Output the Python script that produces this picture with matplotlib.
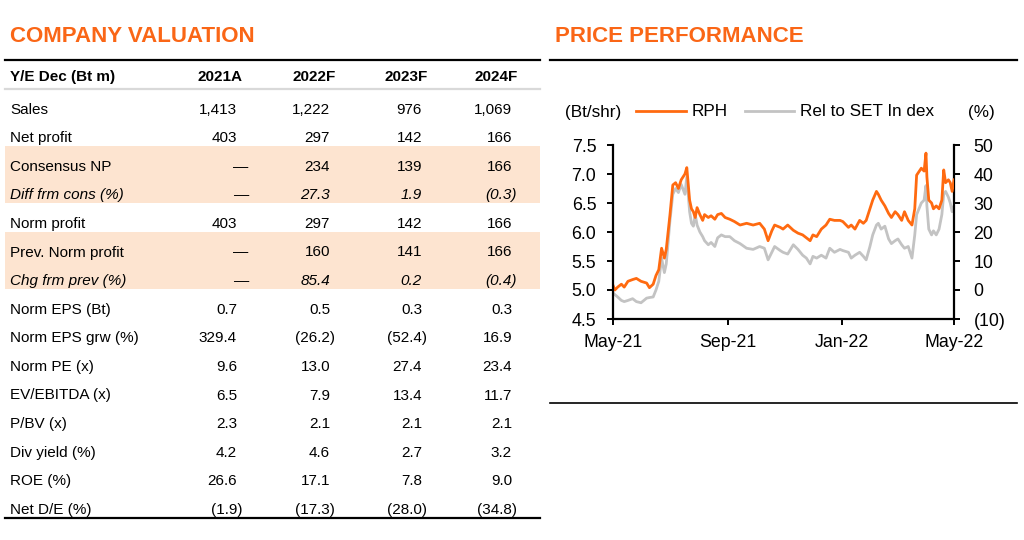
import matplotlib
matplotlib.use("Agg")
import matplotlib.pyplot as plt
import matplotlib.dates as mdates
from matplotlib.ticker import FuncFormatter, FixedLocator
from matplotlib.patches import Rectangle
import pandas as pd

plt.rcParams['font.family'] = ['Liberation Sans', 'DejaVu Sans']

# ---------------- table data ----------------
columns = ["2021A", "2022F", "2023F", "2024F"]
row_labels = ["Sales", "Net profit", "Consensus NP", "Diff frm cons (%)", "Norm profit",
              "Prev. Norm profit", "Chg frm prev (%)", "Norm EPS (Bt)", "Norm EPS grw (%)",
              "Norm PE (x)", "EV/EBITDA (x)", "P/BV (x)", "Div yield (%)", "ROE (%)", "Net D/E (%)"]
row_values = [
    ["1,413", "1,222", "976", "1,069"],
    ["403", "297", "142", "166"],
    ["\u2014", "234", "139", "166"],
    ["\u2014", "27.3", "1.9", "(0.3)"],
    ["403", "297", "142", "166"],
    ["\u2014", "160", "141", "166"],
    ["\u2014", "85.4", "0.2", "(0.4)"],
    ["0.7", "0.5", "0.3", "0.3"],
    ["329.4", "(26.2)", "(52.4)", "16.9"],
    ["9.6", "13.0", "27.4", "23.4"],
    ["6.5", "7.9", "13.4", "11.7"],
    ["2.3", "2.1", "2.1", "2.1"],
    ["4.2", "4.6", "2.7", "3.2"],
    ["26.6", "17.1", "7.8", "9.0"],
    ["(1.9)", "(17.3)", "(28.0)", "(34.8)"],
]
shaded_rows = [2, 3, 5, 6]
italic_rows = [3, 6]

# ---------------- price data ----------------
dates = ["2021-05-01", "2021-05-03", "2021-05-06", "2021-05-10", "2021-05-13", "2021-05-17",
         "2021-05-22", "2021-05-26", "2021-05-31", "2021-06-06", "2021-06-09", "2021-06-13",
         "2021-06-16", "2021-06-19", "2021-06-22", "2021-06-25", "2021-06-27", "2021-07-01",
         "2021-07-04", "2021-07-07", "2021-07-10", "2021-07-13", "2021-07-17", "2021-07-19",
         "2021-07-22", "2021-07-24", "2021-07-26", "2021-07-28", "2021-07-30", "2021-08-02",
         "2021-08-05", "2021-08-07", "2021-08-11", "2021-08-14", "2021-08-18", "2021-08-21",
         "2021-08-25", "2021-08-29", "2021-09-03", "2021-09-08", "2021-09-14", "2021-09-21",
         "2021-09-28", "2021-10-05", "2021-10-10", "2021-10-14", "2021-10-18", "2021-10-21",
         "2021-10-27", "2021-10-30", "2021-11-04", "2021-11-10", "2021-11-15", "2021-11-20",
         "2021-11-24", "2021-11-28", "2021-12-01", "2021-12-05", "2021-12-10", "2021-12-15",
         "2021-12-19", "2021-12-24", "2021-12-30", "2022-01-02", "2022-01-08", "2022-01-11",
         "2022-01-15", "2022-01-20", "2022-01-24", "2022-01-27", "2022-01-31", "2022-02-03",
         "2022-02-07", "2022-02-09", "2022-02-12", "2022-02-16", "2022-02-20", "2022-02-23",
         "2022-02-27", "2022-03-02", "2022-03-06", "2022-03-09", "2022-03-13", "2022-03-17",
         "2022-03-20", "2022-03-22", "2022-03-27", "2022-03-30", "2022-04-01", "2022-04-02",
         "2022-04-04", "2022-04-07", "2022-04-09", "2022-04-12", "2022-04-15", "2022-04-18",
         "2022-04-20", "2022-04-22", "2022-04-25", "2022-04-27", "2022-04-29", "2022-05-01"]
rph_price = [5.08, 5.00, 5.05, 5.10, 5.05, 5.15, 5.18, 5.20, 5.15, 5.12,
             5.04, 5.10, 5.25, 5.35, 5.72, 5.55, 5.70, 6.30, 6.81, 6.85,
             6.75, 6.90, 7.00, 7.11, 6.55, 6.40, 6.35, 6.25, 6.42, 6.30,
             6.20, 6.30, 6.25, 6.28, 6.22, 6.30, 6.32, 6.25, 6.22, 6.18,
             6.12, 6.15, 6.12, 6.15, 6.05, 5.85, 6.02, 6.12, 6.08, 6.05,
             6.12, 6.03, 5.98, 5.95, 5.90, 5.85, 5.95, 5.92, 6.05, 6.12,
             6.22, 6.20, 6.20, 6.18, 6.08, 6.12, 6.05, 6.20, 6.15, 6.20,
             6.40, 6.55, 6.70, 6.65, 6.55, 6.45, 6.32, 6.25, 6.35, 6.30,
             6.20, 6.35, 6.20, 6.12, 6.40, 6.98, 7.10, 7.05, 7.36, 6.95,
             6.55, 6.50, 6.40, 6.45, 6.40, 6.55, 7.07, 6.85, 6.90, 6.85,
             6.70, 6.90]
rel_set_pct = [-1, -1.6, -2.4, -3.6, -4, -3.6, -3, -4, -4.4, -2.8,
               -2.6, -2.4, 0, 3, 11, 6, 9, 24, 33, 35,
               33.6, 36.4, 33, 39, 27, 23, 22, 26, 22.4, 20,
               18.4, 17, 15.6, 16.4, 15, 18, 19, 18.4, 18.4, 17,
               16, 14.4, 14, 15, 14.4, 10.4, 13, 15, 13.6, 13,
               12.4, 15.6, 14, 12, 11, 9, 11.6, 11, 12, 11,
               14.4, 13, 14, 13.6, 13, 11, 12, 13, 11.6, 10.4,
               15, 19, 22.4, 23, 21, 22, 17.6, 16, 17, 17.6,
               15.6, 14.4, 15, 11, 19, 26, 30, 31, 36, 29,
               21, 19, 20.4, 19, 21, 26, 33, 34, 32, 30,
               27, 29]
x_ticks = ["2021-05-01", "2021-09-01", "2022-01-01", "2022-05-01"]
left_ticks = [4.5, 5.0, 5.5, 6.0, 6.5, 7.0, 7.5]
right_ticks = [-10, 0, 10, 20, 30, 40, 50]

ORANGE_TITLE = "#FA6616"
ORANGE_LINE = "#FF6A10"
GRAY_LINE = "#C3C3C3"
BAND = "#FDE4D0"

W, H = 1024, 540
fig = plt.figure(figsize=(W / 100, H / 100), dpi=100)

# overlay axes in pixel coordinates
ov = fig.add_axes([0, 0, 1, 1])
ov.set_xlim(0, W)
ov.set_ylim(H, 0)
ov.axis("off")

# ---- left: table ----
ov.text(10, 37, "COMPANY VALUATION", color=ORANGE_TITLE, fontsize=16,
        fontweight="bold", va="center", ha="left")
ov.plot([5, 540], [60, 60], color="black", lw=1.6)
ov.plot([5, 540], [89, 89], color="#D9D9D9", lw=1.6)

col_right = [242, 335, 427, 517]
fs = 11
y_head = 77
ov.text(10, y_head, "Y/E Dec (Bt m)", fontsize=fs, fontweight="bold", va="center")
for c, name in enumerate(columns):
    ov.text(col_right[c] + 1, y_head, name, fontsize=fs, fontweight="bold",
            va="center", ha="right")

y0, pitch = 109.5, 28.6
for i, lab in enumerate(row_labels):
    y = y0 + i * pitch
    if i in shaded_rows:
        ov.add_patch(Rectangle((5, y - 20.5), 535, pitch, facecolor=BAND,
                               edgecolor="none", zorder=0))
    style = "italic" if i in italic_rows else "normal"
    ov.text(10, y, lab, fontsize=fs, style=style, va="center", ha="left")
    for c, v in enumerate(row_values[i]):
        if v == "\u2014":
            ov.text(col_right[c] - 1, y, v, fontsize=fs, style=style, va="center", ha="center")
        elif v.endswith(")"):
            ov.text(col_right[c], y, v, fontsize=fs, style=style, va="center", ha="right")
        else:
            ov.text(col_right[c] - 5, y, v, fontsize=fs, style=style, va="center", ha="right")
ov.plot([5, 540], [518, 518], color="black", lw=1.6)

# ---- right: price performance ----
ov.text(555, 37, "PRICE PERFORMANCE", color=ORANGE_TITLE, fontsize=16,
        fontweight="bold", va="center", ha="left")
ov.plot([550, 1017], [60, 60], color="black", lw=1.6)
ov.plot([550, 1017], [403, 403], color="black", lw=1.2)

ax_l, ax_r, ax_t, ax_b = 613, 954, 145, 319
ax = fig.add_axes([ax_l / W, 1 - ax_b / H, (ax_r - ax_l) / W, (ax_b - ax_t) / H])
ax2 = ax.twinx()

d = pd.to_datetime(dates)
l2, = ax2.plot(d, rel_set_pct, color=GRAY_LINE, lw=2.0, label="Rel to SET In dex")
l1, = ax.plot(d, rph_price, color=ORANGE_LINE, lw=2.0, label="RPH")
ax.set_zorder(ax2.get_zorder() + 1)
ax.patch.set_visible(False)

ax.set_ylim(4.5, 7.5)
ax2.set_ylim(-10, 50)
xt = pd.to_datetime(x_ticks)
ax.set_xlim(xt[0], xt[-1])
ax.xaxis.set_major_locator(FixedLocator(mdates.date2num(xt)))
ax.xaxis.set_major_formatter(mdates.DateFormatter("%b-%y"))
ax.yaxis.set_major_locator(FixedLocator(left_ticks))
ax.yaxis.set_major_formatter(FuncFormatter(lambda v, p: f"{v:.1f}"))
ax2.yaxis.set_major_locator(FixedLocator(right_ticks))
ax2.yaxis.set_major_formatter(FuncFormatter(lambda v, p: f"({abs(v):.0f})" if v < 0 else f"{v:.0f}"))

for a in (ax, ax2):
    for s in a.spines.values():
        s.set_linewidth(1.6)
    a.spines["top"].set_visible(False)
ax.spines["right"].set_visible(False)
ax2.spines["left"].set_visible(False)
ax2.spines["bottom"].set_visible(False)

tick_fs = 12.8
ax.tick_params(axis="y", direction="out", length=4, width=1.4, pad=8, labelsize=tick_fs)
ax.tick_params(axis="x", direction="out", length=4, width=1.4, pad=7, labelsize=tick_fs)
ax2.tick_params(axis="y", direction="out", length=4, width=1.4, pad=10, labelsize=tick_fs)

ov.text(565, 112, "(Bt/shr)", fontsize=12.3, va="center", ha="left")
ov.text(968, 112, "(%)", fontsize=12.3, va="center", ha="left")
fig.legend(handles=[l1, l2], loc="center left", bbox_to_anchor=(636 / W, 1 - 112 / H),
           ncol=2, frameon=False, fontsize=12.3, handlelength=2.9, handletextpad=0.35,
           columnspacing=1.0, borderpad=0, borderaxespad=0)

fig.savefig("out.png", dpi=100)
